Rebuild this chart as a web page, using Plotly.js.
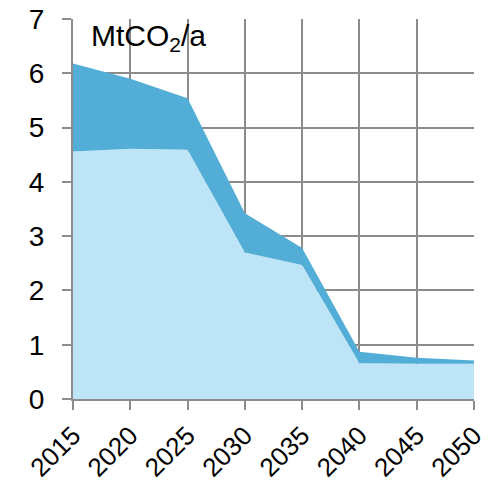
<!DOCTYPE html>
<html>
<head>
<meta charset="utf-8">
<script src="https://cdn.plot.ly/plotly-3.0.1.min.js"></script>
<style>
  html, body { margin: 0; padding: 0; background: #ffffff; }
  #chart { width: 489px; height: 483px; }
</style>
</head>
<body>
<div id="chart"></div>
<script>
// Emissions pathway, MtCO2 per year, stacked by source
const years = [2015, 2020, 2025, 2030, 2035, 2040, 2045, 2050];
const baseSeries = [4.56, 4.61, 4.59, 2.70, 2.47, 0.66, 0.65, 0.65];
const upperSeries = [1.62, 1.29, 0.95, 0.72, 0.31, 0.21, 0.11, 0.06];
const yTicks = [0, 1, 2, 3, 4, 5, 6, 7];

const gridColor = '#8c8c8c';
const fontFamily = 'Liberation Sans, Arial, sans-serif';

const traces = [
  {
    x: years, y: baseSeries, type: 'scatter', mode: 'lines',
    stackgroup: 'one', line: { width: 0 }, fillcolor: '#bde4f7',
    hoverinfo: 'x+y'
  },
  {
    x: years, y: upperSeries, type: 'scatter', mode: 'lines',
    stackgroup: 'one', line: { width: 0 }, fillcolor: '#52aed6',
    hoverinfo: 'x+y'
  }
];

const layout = {
  width: 489, height: 483,
  margin: { l: 73, r: 15, t: 19, b: 84 },
  paper_bgcolor: '#ffffff', plot_bgcolor: '#ffffff',
  showlegend: false,
  font: { family: fontFamily, size: 26, color: '#000000' },
  xaxis: {
    range: [2015, 2050], tickvals: years, ticktext: years.map(String),
    tickangle: -45, ticks: 'outside', ticklen: 9, tickwidth: 2, tickcolor: gridColor,
    ticklabelstandoff: 0,
    showgrid: true, gridcolor: gridColor, gridwidth: 2,
    showline: true, linecolor: gridColor, linewidth: 2,
    zeroline: false, layer: 'above traces',
    tickfont: { family: fontFamily, size: 26 }
  },
  yaxis: {
    range: [0, 7], tickvals: yTicks,
    ticks: 'outside', ticklen: 9, tickwidth: 2, tickcolor: gridColor,
    ticklabelstandoff: 12,
    showgrid: true, gridcolor: gridColor, gridwidth: 2,
    showline: true, linecolor: gridColor, linewidth: 2,
    zeroline: false, layer: 'above traces',
    tickfont: { family: fontFamily, size: 28 }
  },
  annotations: [{
    text: 'MtCO<sub>2</sub>/a', xref: 'paper', yref: 'paper',
    x: 0.04, y: 1.005, xanchor: 'left', yanchor: 'top', showarrow: false,
    font: { family: fontFamily, size: 30, color: '#000000' },
    bgcolor: 'rgba(255,255,255,0)'
  }]
};

Plotly.newPlot('chart', traces, layout, { displayModeBar: false, staticPlot: true });
</script>
</body>
</html>
